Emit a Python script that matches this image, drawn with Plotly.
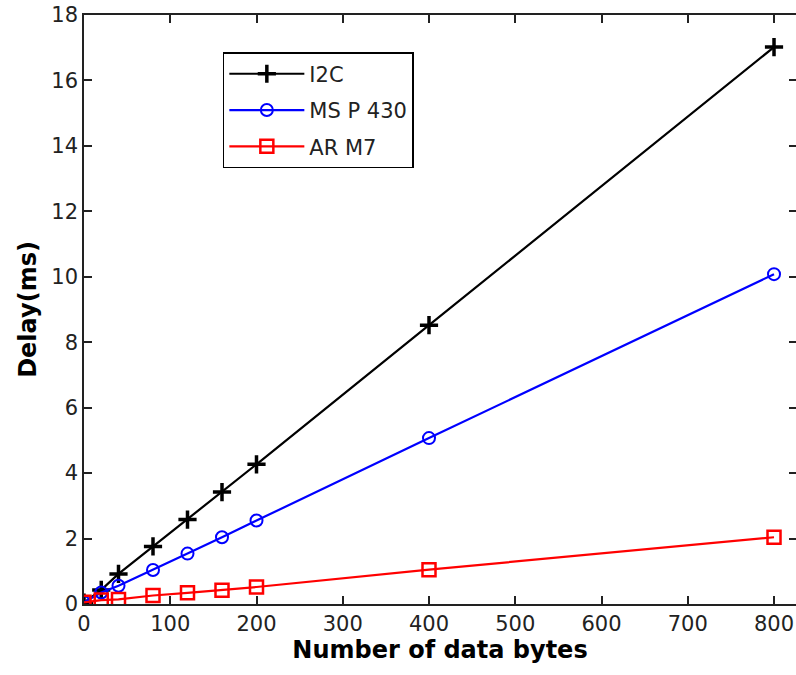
import plotly.graph_objects as go

bytes_x = [0, 20, 40, 80, 120, 160, 200, 400, 800]
i2c = [0.04, 0.43, 0.92, 1.76, 2.58, 3.42, 4.27, 8.52, 17.02]
msp430 = [0.05, 0.35, 0.56, 1.04, 1.54, 2.04, 2.55, 5.07, 10.08]
arm7 = [0.05, 0.12, 0.14, 0.26, 0.34, 0.42, 0.52, 1.05, 2.04]
names = ["I2C", "MS P 430", "AR M7"]
x_ticks = [0, 100, 200, 300, 400, 500, 600, 700, 800]
y_ticks = [0, 2, 4, 6, 8, 10, 12, 14, 16, 18]

fig = go.Figure()
fig.add_trace(go.Scatter(x=bytes_x, y=i2c, name=names[0], mode="lines+markers",
                         line=dict(color="black", width=2.2), legendgroup="a",
                         marker=dict(symbol="cross-thin", size=13,
                                     line=dict(color="black", width=3.5))))
fig.add_trace(go.Scatter(x=bytes_x, y=msp430, name=names[1], mode="lines+markers",
                         line=dict(color="#0000ff", width=2.2), legendgroup="b",
                         marker=dict(symbol="circle-open", size=12, color="#0000ff",
                                     line=dict(color="#0000ff", width=2))))
fig.add_trace(go.Scatter(x=bytes_x, y=arm7, name=names[2], mode="lines+markers",
                         line=dict(color="#ff0000", width=2.2), legendgroup="c",
                         marker=dict(symbol="square-open", size=13, color="#ff0000",
                                     line=dict(color="#ff0000", width=2.5))))
# invisible traces to drive the top and right axes
fig.add_trace(go.Scatter(x=[0], y=[0], xaxis="x2", mode="markers",
                         marker=dict(opacity=0), showlegend=False, hoverinfo="skip"))
fig.add_trace(go.Scatter(x=[0], y=[0], yaxis="y2", mode="markers",
                         marker=dict(opacity=0), showlegend=False, hoverinfo="skip"))

axis_font = dict(family="DejaVu Sans", size=21, color="#222222")
fig.update_layout(
    width=796, height=675,
    margin=dict(l=84, r=0, t=15, b=71),
    paper_bgcolor="white", plot_bgcolor="white",
    xaxis=dict(range=[0, 825.5], tickvals=x_ticks, ticktext=[str(v) for v in x_ticks],
               ticks="inside", ticklen=8, tickwidth=1.5, tickcolor="#222222",
               showline=True, linecolor="#222222", linewidth=1.5,
               showgrid=False, zeroline=False, tickfont=axis_font,
               title=dict(text="<b>Number of data bytes</b>", standoff=4,
                          font=dict(family="DejaVu Sans", size=24, color="black"))),
    xaxis2=dict(range=[0, 825.5], overlaying="x", side="top", tickvals=x_ticks,
                ticks="inside", ticklen=8, tickwidth=1.5, tickcolor="#222222",
                showline=True, linecolor="#222222", linewidth=1.5,
                showticklabels=False, showgrid=False, zeroline=False),
    yaxis=dict(range=[0, 18], tickvals=y_ticks, ticktext=[str(v) for v in y_ticks],
               ticks="inside", ticklen=8, tickwidth=1.5, tickcolor="#222222",
               showline=True, linecolor="#222222", linewidth=1.5,
               showgrid=False, zeroline=False, tickfont=axis_font,
               title=dict(text="<b>Delay(ms)</b>", standoff=8,
                          font=dict(family="DejaVu Sans", size=24, color="black"))),
    yaxis2=dict(range=[0, 18], overlaying="y", side="right", tickvals=y_ticks,
                ticks="inside", ticklen=7, tickwidth=1.5, tickcolor="#222222",
                showline=False, showticklabels=False, showgrid=False, zeroline=False),
    legend=dict(x=0.195, y=0.937, xanchor="left", yanchor="top",
                bgcolor="white", bordercolor="black", borderwidth=1.5,
                font=dict(family="DejaVu Sans", size=21, color="#222222"),
                itemwidth=75,
                traceorder="grouped", tracegroupgap=6),
)

fig.write_html("out.html")
